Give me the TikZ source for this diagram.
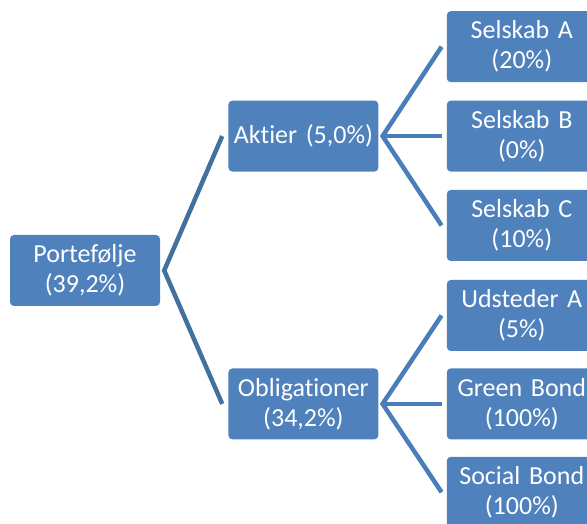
\documentclass[tikz,border=0pt]{standalone}
\usepackage{fontspec}
\setmainfont{Carlito}[Ligatures={NoCommon}, WordSpace=0.85]
\usepackage{xcolor}
\usetikzlibrary{positioning}
\definecolor{boxblue}{HTML}{4F81BD}
\definecolor{linkdark}{HTML}{41719C}
\definecolor{linklight}{HTML}{4A7EBB}
\tikzstyle{block} = [rectangle, fill=boxblue, text=white, rounded corners=4pt,
    text width=146pt, align=center, minimum height=71pt, minimum width=150pt,
    inner sep=0pt, font=\fontsize{26}{30}\selectfont]
\tikzstyle{line_dark} = [draw=linkdark, line width=4.5pt]
\tikzstyle{line_light} = [draw=linklight, line width=4.5pt]

\begin{document}
\begin{tikzpicture}[x=1pt, y=1pt]
    \useasboundingbox (0,0) rectangle (587,524);
    \clip (0,0) rectangle (587,524);
    % Place nodes
    \node [block] (port) at (85,253.5) {Portefølje\\ (39,2\%)};
    \node [block, above right=63pt and 68pt of port] (aktier) {Aktier (5,0\%)};
    \node [block, below right=62pt and 68pt of port] (oblig) {Obligationer\\ (34,2\%)};
    \node [block, right=68pt of aktier] (selB) {Selskab B\\ (0\%)};
    \node [block, above=18pt of selB] (selA) {Selskab A\\ (20\%)};
    \node [block, below=18pt of selB] (selC) {Selskab C\\ (10\%)};
    \node [block, right=68pt of oblig] (green) {Green Bond\\ (100\%)};
    \node [block, above=17pt of green] (udst) {Udsteder A\\ (5\%)};
    \node [block, below=17pt of green] (social) {Social Bond\\ (100\%)};
    % Draw edges
    \coordinate (pj) at ([xshift=4pt]port.east);
    \coordinate (aj) at ([xshift=4pt]aktier.east);
    \coordinate (oj) at ([xshift=4pt]oblig.east);
    \path [line_dark] ([xshift=-6pt]aktier.west) -- (pj) -- ([xshift=-6pt]oblig.west);
    \path [line_light] ([xshift=-5pt]selA.west) -- (aj) -- ([xshift=-5pt]selC.west);
    \path [line_light] (aj) -- ([xshift=-5pt]selB.west);
    \path [line_light] ([xshift=-5pt]udst.west) -- (oj) -- ([xshift=-5pt]social.west);
    \path [line_light] (oj) -- ([xshift=-5pt]green.west);
\end{tikzpicture}
\end{document}
